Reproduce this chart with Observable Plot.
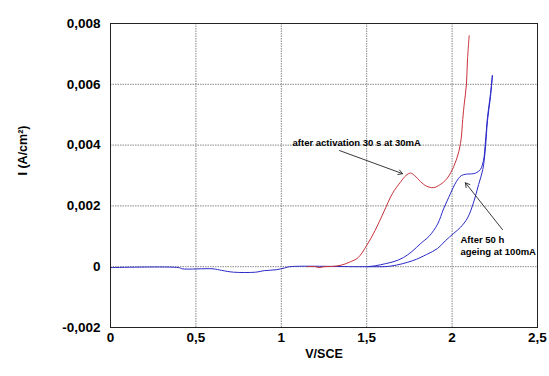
<!DOCTYPE html>
<html>
<head>
<meta charset="utf-8">
<script src="https://cdn.jsdelivr.net/npm/d3@7"></script>
<script src="https://cdn.jsdelivr.net/npm/@observablehq/plot@0.6"></script>
<style>
  html, body { margin: 0; padding: 0; background: #fff; }
</style>
</head>
<body>
<div id="chart"></div>
<script>
// Red curve: after activation 30 s at 30 mA (V/SCE, A/cm²)
const redV = [1.15, 1.20, 1.22, 1.25, 1.30, 1.35, 1.40, 1.45, 1.50, 1.55, 1.60, 1.65, 1.70, 1.73, 1.756, 1.78, 1.815, 1.85, 1.89, 1.93, 1.97, 2.01, 2.04, 2.055, 2.06, 2.07, 2.084, 2.09, 2.10];
const redI = [0, 0, -0.00003, 0, 0.00001, 0.00005, 0.00015, 0.0003, 0.0007, 0.0012, 0.0018, 0.0024, 0.0028, 0.0030, 0.00308, 0.0030, 0.0028, 0.00265, 0.0026, 0.0027, 0.0029, 0.0033, 0.0038, 0.0043, 0.0047, 0.0053, 0.0060, 0.0068, 0.0076];

// Blue curve: after 50 h ageing at 100 mA (scan up, then back)
const blueV = [0, 0.40, 0.42, 0.60, 0.65, 0.72, 0.85, 0.90, 0.97, 1.02, 1.05, 1.50,
               1.64, 1.77, 1.85, 1.915, 1.96, 2.01, 2.05, 2.09, 2.125, 2.155, 2.18, 2.195, 2.207, 2.225, 2.236,
               2.225, 2.207, 2.195, 2.184, 2.166, 2.145, 2.125, 2.10, 2.078, 2.055, 2.037, 2.015, 1.99, 1.95, 1.915, 1.865, 1.815, 1.765, 1.715, 1.66, 1.61, 1.55, 1.50];
const blueI = [-0.00003, -0.00003, -0.00007, -0.00007, -0.00012, -0.00018, -0.00018, -0.00013, -0.0001, -0.00004, 0, 0,
               0.00002, 0.0002, 0.0004, 0.0006, 0.00085, 0.0011, 0.0013, 0.0016, 0.0021, 0.0027, 0.0032, 0.0039, 0.0048, 0.0056, 0.0063,
               0.0057, 0.0049, 0.0041, 0.0035, 0.0032, 0.0031, 0.00306, 0.00305, 0.00304, 0.0030, 0.0029, 0.0027, 0.0024, 0.0019, 0.0014, 0.0010, 0.00076, 0.0005, 0.0003, 0.00017, 0.0001, 0.00003, 0];

// Ticks
const xTicks = [0, 0.5, 1, 1.5, 2, 2.5];
const yTicks = [-0.002, 0, 0.002, 0.004, 0.006, 0.008];

// Annotations
const noteText = ["after activation 30 s at 30mA", "After 50 h\nageing at 100mA"];
const noteV = [1.066, 2.049];
const noteI = [0.00408, 0.00072];
const arrowV1 = [1.341, 2.295];
const arrowI1 = [0.00382, 0.00122];
const arrowV2 = [1.710, 2.078];
const arrowI2 = [0.00306, 0.00276];

const red = redV.map((v, i) => ({v, I: redI[i]}));
const blue = blueV.map((v, i) => ({v, I: blueI[i]}));
const notes = noteText.map((t, i) => ({t, v: noteV[i], I: noteI[i]}));
const arrows = arrowV1.map((v, i) => ({v1: v, i1: arrowI1[i], v2: arrowV2[i], i2: arrowI2[i]}));

const fmtX = d => String(d).replace(".", ",");
const fmtY = d => d === 0 ? "0" : d.toFixed(3).replace(".", ",");

const chart = Plot.plot({
  width: 549,
  height: 376,
  marginLeft: 110,
  marginRight: 12,
  marginTop: 23,
  marginBottom: 49,
  style: {fontFamily: "'Liberation Sans', Arial, sans-serif", background: "#fff", color: "#000"},
  x: {domain: [0, 2.5]},
  y: {domain: [-0.002, 0.008]},
  marks: [
    Plot.gridX(xTicks, {stroke: "#888", strokeOpacity: 1, strokeDasharray: "1.5,1"}),
    Plot.gridY(yTicks, {stroke: "#888", strokeOpacity: 1, strokeDasharray: "1.5,1"}),
    Plot.axisX(xTicks, {tickSize: 0, tickPadding: 5, tickFormat: fmtX, label: null, fontSize: 13.5, fontWeight: "bold", letterSpacing: 0.6}),
    Plot.axisY(yTicks, {tickSize: 0, tickPadding: 10, tickFormat: fmtY, label: null, fontSize: 13.5, fontWeight: "bold", letterSpacing: 0.6}),
    Plot.text(["V/SCE"], {frameAnchor: "bottom", dy: 26, fontSize: 12.5, fontWeight: "bold", lineAnchor: "middle"}),
    Plot.text(["I (A/cm²)"], {frameAnchor: "left", dx: -88, rotate: -90, fontSize: 12.5, fontWeight: "bold", lineAnchor: "middle"}),
    Plot.line(blue, {x: "v", y: "I", stroke: "#2a2ac8", strokeWidth: 1, curve: "catmull-rom"}),
    Plot.line(red, {x: "v", y: "I", stroke: "#c8323c", strokeWidth: 1, curve: "catmull-rom"}),
    Plot.arrow(arrows, {x1: "v1", y1: "i1", x2: "v2", y2: "i2", stroke: "#222", strokeWidth: 0.9, headLength: 8}),
    Plot.text(notes, {x: "v", y: "I", text: "t", textAnchor: "start", fontSize: 9.5, fontWeight: "bold", letterSpacing: -0.2, lineHeight: 1.25, fill: "#000"}),
    Plot.frame({stroke: "#222", strokeWidth: 1})
  ]
});
document.getElementById("chart").appendChild(chart);
</script>
</body>
</html>
